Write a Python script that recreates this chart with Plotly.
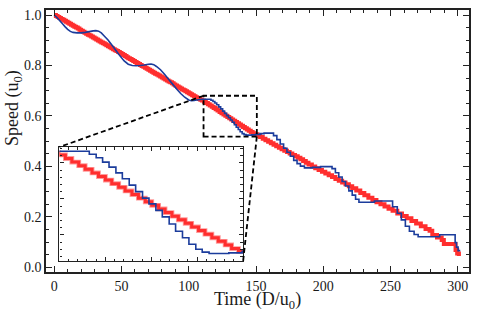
import plotly.graph_objects as go

# ---------------- data ----------------
# Red series: staircase (step start times / held speed values)
red_time = [
    0, 1.25, 2.5, 3.75, 5, 6.25, 7.5, 8.75, 10, 11.25, 12.5, 13.75, 15, 16.25,
    17.5, 18.75, 20, 21.25, 22.5, 23.75, 25, 26.25, 27.5, 28.75, 30, 31.25, 32.5,
    33.75, 35, 36.25, 37.5, 38.75, 40, 41.25, 42.5, 43.75, 45, 46.25, 47.5, 48.75,
    50, 51.25, 52.5, 53.75, 55, 56.25, 57.5, 58.75, 60, 61.25, 62.5, 63.75, 65,
    66.25, 67.5, 68.75, 70, 71.25, 72.5, 73.75, 75, 76.25, 77.5, 78.75, 80, 81.25,
    82.5, 83.75, 85, 86.25, 87.5, 88.75, 90, 91.25, 92.5, 93.75, 95, 96.25, 97.5,
    98.75, 100, 101.25, 102.5, 103.75, 105, 106.25, 107.5, 108.6,
    109.8, 111.3, 112.7, 114.2, 115.6, 117.1, 118.5, 120.0, 121.4, 122.9, 124.3,
    125.8, 127.2, 128.7, 130.1, 131.6, 133.0, 134.5, 135.9, 137.4, 138.8, 140.3,
    141.7, 143.2, 144.6, 146.1, 147.5, 149.0,
    151.0, 153.0, 155.0, 157.0, 159.0, 161.0, 163.0, 165.0, 167.0, 169.0, 171.0,
    173.0, 175.0, 177.0, 179.0, 181.0, 183.0, 185.0, 187.0, 189.0, 191.5, 194.0,
    196.5, 199.0, 201.5, 204.0, 206.5, 209.0, 211.5, 214.0, 216.5, 219.0, 221.5,
    224.5, 227.5, 230.5, 233.5, 236.5, 239.5, 242.5, 245.5, 248.5, 251.5, 255.0,
    258.5, 262.0, 265.5, 269.0, 272.5, 276.0, 279.0, 281.0, 284.5, 288.0, 289.6,
    298.3, 299.5, 300.8,
]
red_speed = [
    1.000, 0.996, 0.992, 0.988, 0.984, 0.981, 0.977, 0.973, 0.969, 0.965, 0.961,
    0.957, 0.953, 0.950, 0.946, 0.942, 0.938, 0.934, 0.930, 0.926, 0.922, 0.919,
    0.915, 0.911, 0.907, 0.903, 0.899, 0.895, 0.891, 0.888, 0.884, 0.880, 0.876,
    0.872, 0.868, 0.864, 0.860, 0.857, 0.853, 0.849, 0.845, 0.841, 0.837, 0.833,
    0.829, 0.826, 0.822, 0.818, 0.814, 0.810, 0.806, 0.802, 0.798, 0.795, 0.791,
    0.787, 0.783, 0.779, 0.775, 0.771, 0.767, 0.764, 0.760, 0.756, 0.752, 0.748,
    0.744, 0.740, 0.736, 0.733, 0.729, 0.725, 0.721, 0.717, 0.713, 0.709, 0.705,
    0.702, 0.698, 0.694, 0.690, 0.686, 0.682, 0.678, 0.674, 0.671, 0.667, 0.664,
    0.661, 0.656, 0.651, 0.646, 0.641, 0.636, 0.631, 0.626, 0.621, 0.616, 0.611,
    0.606, 0.601, 0.596, 0.591, 0.586, 0.581, 0.576, 0.571, 0.566, 0.561, 0.556,
    0.551, 0.546, 0.541, 0.536, 0.531, 0.527,
    0.522, 0.516, 0.510, 0.504, 0.498, 0.492, 0.486, 0.480, 0.474, 0.468, 0.462,
    0.457, 0.451, 0.445, 0.440, 0.434, 0.428, 0.421, 0.414, 0.407, 0.400, 0.393,
    0.386, 0.379, 0.372, 0.365, 0.358, 0.350, 0.343, 0.336, 0.329, 0.321, 0.313,
    0.304, 0.295, 0.286, 0.276, 0.267, 0.258, 0.250, 0.241, 0.232, 0.224, 0.213,
    0.203, 0.194, 0.184, 0.174, 0.163, 0.152, 0.145, 0.128, 0.118, 0.108, 0.092,
    0.069, 0.055, 0.045,
]

# Blue series: smooth early part, then staircase corners
blue_time = [
    0, 2, 4, 6, 8, 10, 12, 14, 17, 20, 23, 26, 29, 31, 33, 35, 37, 40, 43, 46, 49,
    52, 55, 58, 61, 64, 67, 70, 72, 74, 76, 79, 82, 85, 88, 91, 94, 97, 100, 102,
    104, 107, 110, 116.5,
    116.5, 118.0, 118.0, 119.4, 119.4, 120.8, 120.8, 122.3, 122.3, 123.7, 123.7,
    125.2, 125.2, 126.6, 126.6, 128.1, 128.1, 129.5, 129.5, 131.0, 131.0, 132.4,
    132.4, 133.9, 133.9, 135.3, 135.3, 136.8, 136.8, 138.2, 138.2, 139.7, 139.7,
    141.1, 141.1, 142.6, 142.6, 146.9, 146.9, 149.8, 149.8, 153.0, 153.0, 156.0,
    156.0, 163.0, 163.0, 165.5, 165.5, 168.0, 168.0, 170.5, 170.5, 173.0, 173.0,
    175.5, 175.5, 178.0, 178.0, 180.5, 180.5, 183.0, 183.0, 186.0, 186.0, 192.0,
    192.0, 198.0, 198.0, 206.5, 206.5, 209.0, 209.0, 211.5, 211.5, 214.0, 214.0,
    216.5, 216.5, 219.0, 219.0, 221.5, 221.5, 224.0, 224.0, 226.5, 226.5, 238.0,
    238.0, 251.5, 251.5, 255.0, 255.0, 258.0, 258.0, 261.0, 261.0, 264.0, 264.0,
    267.5, 267.5, 270.5, 270.5, 286.5, 286.5, 298.0, 298.0, 299.0, 299.0, 300.2,
    300.2, 301.8,
]
blue_speed = [
    1.000, 0.990, 0.978, 0.966, 0.954, 0.943, 0.935, 0.931, 0.929, 0.929, 0.931,
    0.934, 0.937, 0.938, 0.936, 0.929, 0.918, 0.901, 0.880, 0.858, 0.837, 0.818,
    0.805, 0.800, 0.799, 0.800, 0.802, 0.805, 0.806, 0.803, 0.796, 0.783, 0.765,
    0.745, 0.726, 0.707, 0.689, 0.674, 0.663, 0.660, 0.661, 0.664, 0.666, 0.666,
    0.662, 0.662, 0.657, 0.657, 0.651, 0.651, 0.644, 0.644, 0.636, 0.636, 0.628,
    0.628, 0.619, 0.619, 0.610, 0.610, 0.601, 0.601, 0.593, 0.593, 0.584, 0.584,
    0.575, 0.575, 0.565, 0.565, 0.555, 0.555, 0.546, 0.546, 0.537, 0.537, 0.530,
    0.530, 0.526, 0.526, 0.524, 0.524, 0.525, 0.525, 0.527, 0.527, 0.530, 0.530,
    0.532, 0.532, 0.522, 0.522, 0.506, 0.506, 0.489, 0.489, 0.472, 0.472, 0.456,
    0.456, 0.440, 0.440, 0.424, 0.424, 0.411, 0.411, 0.401, 0.401, 0.394, 0.394,
    0.396, 0.396, 0.399, 0.399, 0.391, 0.391, 0.375, 0.375, 0.358, 0.358, 0.340,
    0.340, 0.322, 0.322, 0.303, 0.303, 0.286, 0.286, 0.270, 0.270, 0.258, 0.258,
    0.263, 0.263, 0.240, 0.240, 0.214, 0.214, 0.188, 0.188, 0.163, 0.163, 0.143,
    0.143, 0.130, 0.130, 0.121, 0.121, 0.129, 0.129, 0.098, 0.098, 0.080, 0.080,
    0.066, 0.066,
]

x_ticks = [0, 50, 100, 150, 200, 250, 300]
y_ticks = [0.0, 0.2, 0.4, 0.6, 0.8, 1.0]

# zoom window (dashed box) and inset window
zoom_x = [111.0, 150.6]
zoom_y = [0.518, 0.680]
inset_x = [110, 150]
inset_y = [0.513, 0.672]

# ---------------- layout constants ----------------
XR = [-6.1, 308.3]
YR = [-0.0186, 1.0198]
INSET_DOM_X = [0.0318, 0.4659]
INSET_DOM_Y = [0.0401, 0.4771]

RED = "#ff2e2e"
RED_HALO = "#ff9a9a"
BLUE = "#1b3c9c"
AX = "#222222"
FONT = "Liberation Serif"

fig = go.Figure()

# main panel
fig.add_trace(go.Scatter(x=red_time, y=red_speed, mode="lines",
                         line=dict(color=RED, width=4, shape="hv", simplify=False)))
fig.add_trace(go.Scatter(x=blue_time, y=blue_speed, mode="lines",
                         line=dict(color=BLUE, width=1.6, simplify=False)))
# inset panel
fig.add_trace(go.Scatter(x=red_time, y=red_speed, mode="lines", xaxis="x2", yaxis="y2",
                         line=dict(color=RED_HALO, width=4.8, shape="hv", simplify=False),
                         hoverinfo="skip"))
fig.add_trace(go.Scatter(x=red_time, y=red_speed, mode="lines", xaxis="x2", yaxis="y2",
                         line=dict(color=RED, width=3, shape="hv", simplify=False)))
fig.add_trace(go.Scatter(x=blue_time, y=blue_speed, mode="lines", xaxis="x2", yaxis="y2",
                         line=dict(color=BLUE, width=1.6, simplify=False)))


def px(v):
    return (v - XR[0]) / (XR[1] - XR[0])


def py(v):
    return (v - YR[0]) / (YR[1] - YR[0])


dash_line = dict(color="black", width=1.8, dash="5px,3px")
shapes = [
    dict(type="rect", xref="x", yref="y", x0=zoom_x[0], x1=zoom_x[1],
         y0=zoom_y[0], y1=zoom_y[1], line=dash_line, layer="above"),
    dict(type="line", xref="paper", yref="paper",
         x0=px(zoom_x[0]), y0=py(zoom_y[1]), x1=INSET_DOM_X[0], y1=INSET_DOM_Y[1],
         line=dash_line, layer="above"),
    dict(type="line", xref="paper", yref="paper",
         x0=px(zoom_x[1]), y0=py(zoom_y[0]), x1=INSET_DOM_X[1], y1=INSET_DOM_Y[0],
         line=dash_line, layer="above"),
]

annotations = [
    dict(text="Time (D/u<sub>0</sub>)", xref="paper", yref="paper", x=0.5, y=0,
         xanchor="center", yanchor="middle", yshift=-28.5, showarrow=False,
         font=dict(family=FONT, size=18, color="#1a1a1a")),
    dict(text="Speed (u<sub>0</sub>)", xref="paper", yref="paper", x=0, y=0.626,
         xanchor="center", yanchor="middle", xshift=-32, textangle=-90,
         showarrow=False, font=dict(family=FONT, size=18, color="#1a1a1a")),
]

common_axis = dict(showline=True, linecolor=AX, mirror="allticks", ticks="inside",
                   tickcolor=AX, showgrid=False, zeroline=False)

fig.update_layout(
    width=479, height=313,
    margin=dict(l=46, r=8, t=10, b=41),
    paper_bgcolor="white", plot_bgcolor="white",
    showlegend=False,
    hovermode=False,
    font=dict(family=FONT, size=14, color="#1a1a1a"),
    shapes=shapes,
    annotations=annotations,
    xaxis=dict(**common_axis, range=XR, linewidth=1.5, ticklen=6, tickwidth=1.3,
               tickvals=x_ticks, ticktext=[str(v) for v in x_ticks],
               minor=dict(ticks="inside", dtick=10, tick0=0, ticklen=3.5,
                          tickcolor=AX, tickwidth=1),
               tickfont=dict(family=FONT, size=14)),
    yaxis=dict(**common_axis, range=YR, linewidth=1.5, ticklen=6, tickwidth=1.3,
               tickvals=y_ticks, ticktext=[f"{v:.1f}" for v in y_ticks],
               minor=dict(ticks="inside", dtick=0.05, tick0=0, ticklen=3.5,
                          tickcolor=AX, tickwidth=1),
               tickfont=dict(family=FONT, size=14)),
    xaxis2=dict(**common_axis, domain=INSET_DOM_X, anchor="y2", range=inset_x,
                linewidth=1.3, ticklen=4, tickwidth=1, dtick=10, tick0=0,
                showticklabels=False,
                minor=dict(ticks="inside", dtick=2, tick0=0, ticklen=2.5,
                           tickcolor=AX, tickwidth=0.8)),
    yaxis2=dict(**common_axis, domain=INSET_DOM_Y, anchor="x2", range=inset_y,
                linewidth=1.3, ticklen=4, tickwidth=1, dtick=0.05, tick0=0,
                showticklabels=False,
                minor=dict(ticks="inside", dtick=0.01, tick0=0, ticklen=2.5,
                           tickcolor=AX, tickwidth=0.8)),
)

# remove the default 8px page margin so the figure sits at the window's top-left
fig.write_html("out.html",
               config={"displayModeBar": False},
               post_script="document.body.style.margin='0';document.body.style.padding='0';")
